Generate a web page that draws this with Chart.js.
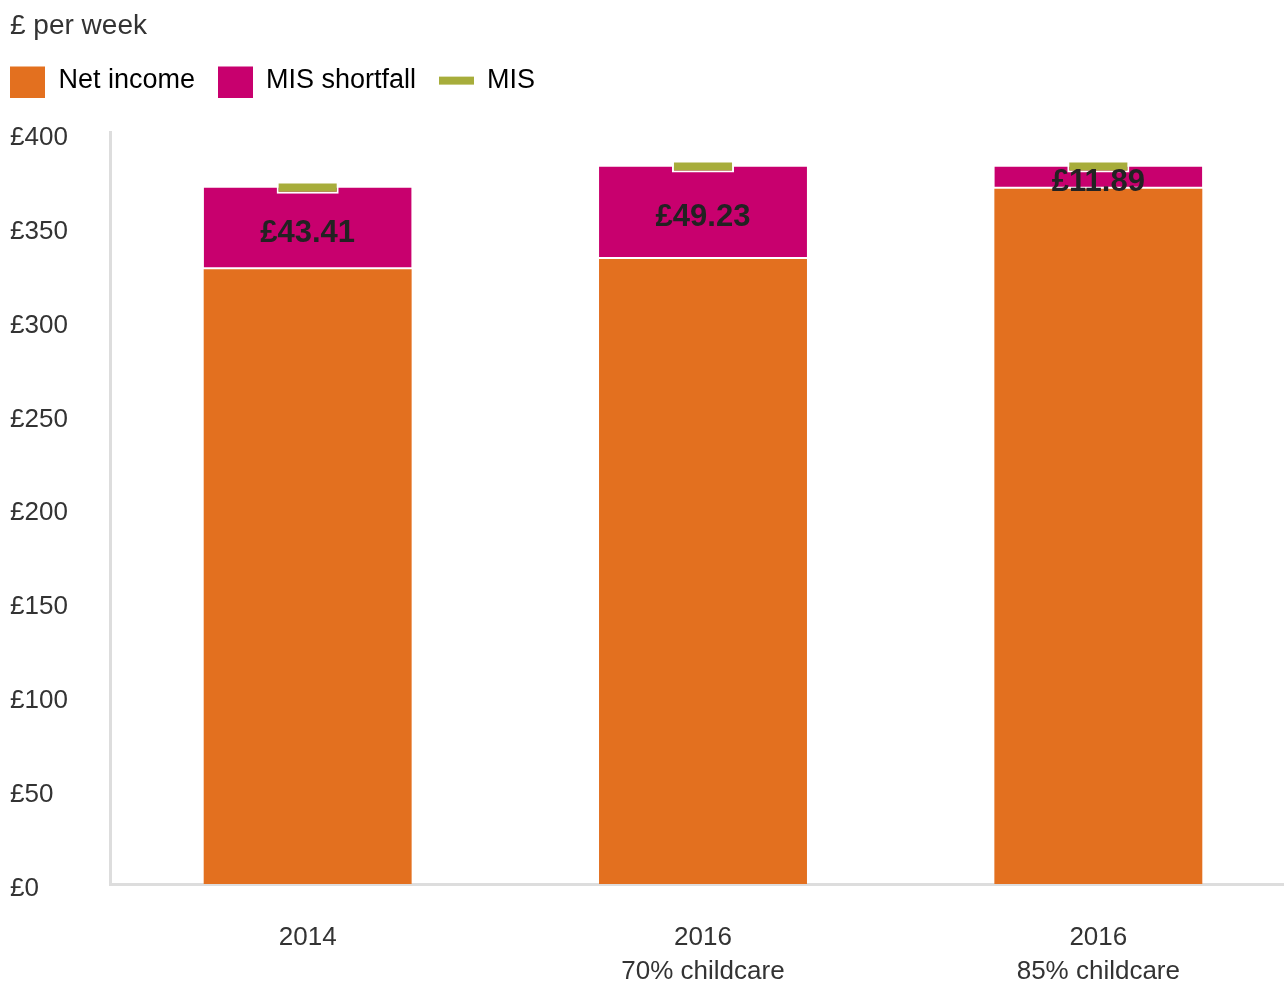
<!DOCTYPE html>
<html>
<head>
<meta charset="utf-8">
<script src="https://cdn.jsdelivr.net/npm/chart.js@4/dist/chart.umd.min.js"></script>
<style>
  html, body { margin: 0; padding: 0; background: #fff; overflow: hidden; }
  #wrap { position: relative; width: 1296px; height: 981px; }
</style>
</head>
<body>
<div id="wrap"><canvas id="misChart"></canvas></div>
<script>
// DATA
const categories = [['2014'], ['2016', '70% childcare'], ['2016', '85% childcare']];
const netIncome = [327.30, 332.77, 370.11];
const misShortfall = [43.41, 49.23, 11.89];
const seriesNames = ['Net income', 'MIS shortfall', 'MIS'];

// MIS = net income + shortfall
const misLevel = netIncome.map((v, i) => v + misShortfall[i]);

// STYLE
const ORANGE = '#e3701f';
const MAGENTA = '#c8006e';
const GREEN = '#a7ad3b';
const TEXT = '#333333';
const AXIS = '#dddddd';
const MARK_HALF = 3.2; // half height of the MIS marker, in £

Chart.defaults.font.family = '"Liberation Sans", Arial, Helvetica, sans-serif';
Chart.defaults.color = TEXT;

// legend swatches
function swatch(color, h) {
  const c = document.createElement('canvas');
  c.width = 35; c.height = 35;
  const g = c.getContext('2d');
  g.fillStyle = color;
  g.fillRect(0, Math.round((35 - h) / 2), 35, h);
  return c;
}
const swatches = [swatch(ORANGE, 35), swatch(MAGENTA, 35), swatch(GREEN, 8)];

// value labels in the shortfall segment
const shortfallLabels = {
  id: 'shortfallLabels',
  afterDatasetsDraw(chart) {
    const meta = chart.getDatasetMeta(1);
    const ctx = chart.ctx;
    ctx.save();
    ctx.font = 'bold 31px "Liberation Sans", Arial, sans-serif';
    ctx.fillStyle = '#222';
    ctx.textAlign = 'center';
    ctx.textBaseline = 'middle';
    meta.data.forEach((bar, i) => {
      ctx.fillText('£' + misShortfall[i].toFixed(2), bar.x, (bar.y + bar.base) / 2 + 5);
    });
    ctx.restore();
  }
};

new Chart(document.getElementById('misChart'), {
  type: 'bar',
  data: {
    labels: categories,
    datasets: [
      {
        label: seriesNames[0],
        data: netIncome,
        backgroundColor: ORANGE,
        stack: 'income',
        order: 1,
        barPercentage: 0.526,
        categoryPercentage: 1
      },
      {
        label: seriesNames[1],
        data: misShortfall,
        backgroundColor: MAGENTA,
        borderColor: '#ffffff',
        borderWidth: { top: 0, left: 0, right: 0, bottom: 2 },
        borderSkipped: false,
        stack: 'income',
        order: 2,
        barPercentage: 0.526,
        categoryPercentage: 1
      },
      {
        label: seriesNames[2],
        data: misLevel.map(v => [v - MARK_HALF, v + MARK_HALF]),
        backgroundColor: GREEN,
        borderColor: '#ffffff',
        borderWidth: 2,
        borderSkipped: false,
        stack: 'mis',
        grouped: false,
        order: 0,
        barPercentage: 0.157,
        categoryPercentage: 1
      }
    ]
  },
  options: {
    animation: false,
    responsive: true,
    maintainAspectRatio: false,
    layout: { padding: { left: 10, right: 0, top: 0, bottom: 0 } },
    scales: {
      x: {
        stacked: true,
        grid: { display: false, drawTicks: false },
        border: { display: true, color: AXIS, width: 3 },
        ticks: { color: TEXT, font: { size: 26, lineHeight: 1.3 }, padding: 37, maxRotation: 0 },
        afterFit: (scale) => { scale.height = 97; }
      },
      y: {
        stacked: true,
        min: 0,
        max: 400,
        grid: { display: false, drawTicks: false },
        border: { display: true, color: AXIS, width: 3 },
        ticks: {
          stepSize: 50,
          color: TEXT,
          font: { size: 26 },
          crossAlign: 'far',
          labelOffset: 5,
          padding: 0,
          callback: (v) => '£' + v
        },
        afterFit: (scale) => { scale.width = 100; }
      }
    },
    plugins: {
      title: {
        display: true,
        text: '£ per week',
        align: 'start',
        color: TEXT,
        font: { size: 28, weight: 'normal' },
        padding: { top: 9, bottom: 24 }
      },
      subtitle: {
        // spacer between legend and plot
        display: true,
        text: '',
        weight: 500,
        font: { size: 10 },
        padding: { top: 17, bottom: 0 }
      },
      legend: {
        display: true,
        align: 'start',
        labels: {
          color: TEXT,
          font: { size: 27 },
          padding: 0,
          usePointStyle: true,
          pointStyleWidth: 35,
          boxHeight: 35,
          generateLabels: () => seriesNames.map((name, i) => ({
            text: name + (i < seriesNames.length - 1 ? '   ' : ''),
            pointStyle: swatches[i],
            fillStyle: 'transparent',
            strokeStyle: 'transparent',
            lineWidth: 0,
            hidden: false,
            datasetIndex: i
          }))
        }
      },
      tooltip: { enabled: false }
    }
  },
  plugins: [shortfallLabels]
});
</script>
</body>
</html>
